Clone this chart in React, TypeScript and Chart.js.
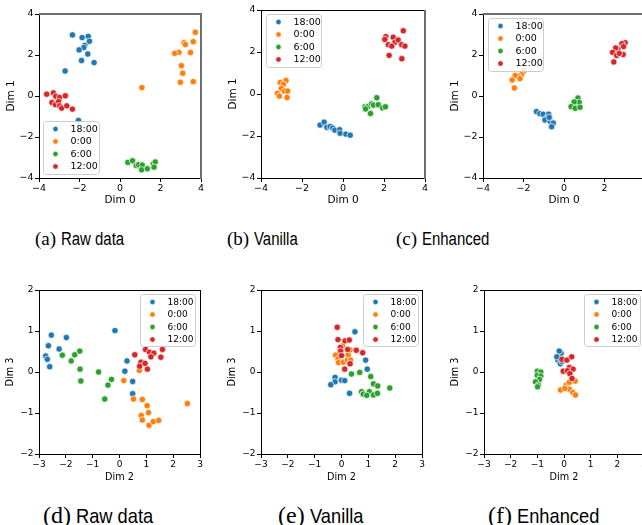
import React, { useEffect, useRef } from "react";
import { Chart, registerables } from "chart.js";
Chart.register(...registerables);

const SERIES = ["18:00", "0:00", "6:00", "12:00"];
const COLORS = ["#1f77b4", "#ff7f0e", "#2ca02c", "#d62728"];

// (a) Raw data — Dim 0 / Dim 1
const a18 = [[-2.35,2.98],[-1.57,2.91],[-1.87,2.85],[-1.51,2.67],[-1.74,2.47],[-1.79,2.36],[-2.02,2.25],[-1.59,2.05],[-1.90,1.73],[-1.28,1.63],[-2.71,1.22],[-2.05,-1.19]];
const a00 = [[3.72,3.11],[3.62,2.65],[3.16,2.60],[3.23,2.51],[2.91,2.13],[2.70,2.08],[3.48,2.12],[3.03,1.48],[3.10,1.11],[2.98,0.67],[3.62,0.70],[1.08,0.41]];
const a06 = [[0.39,-3.24],[0.62,-3.16],[0.80,-3.39],[0.92,-3.35],[1.10,-3.37],[1.07,-3.60],[1.35,-3.55],[1.64,-3.31],[1.74,-3.22],[1.68,-3.47]];
const a12 = [[-3.62,0.09],[-3.29,0.15],[-3.17,-0.01],[-2.98,-0.07],[-2.70,0.01],[-3.36,-0.32],[-3.19,-0.42],[-3.03,-0.27],[-2.98,-0.48],[-2.88,-0.59],[-2.63,-0.48],[-2.35,-0.64]];
// (b) Vanilla — Dim 0 / Dim 1
const b18 = [[-1.12,-1.48],[-0.92,-1.34],[-0.79,-1.58],[-0.63,-1.55],[-0.50,-1.62],[-0.40,-1.72],[-0.16,-1.70],[-0.14,-1.87],[0.14,-1.91],[0.35,-1.96]];
const b00 = [[-3.06,0.55],[-2.78,0.64],[-2.91,0.46],[-3.01,0.26],[-3.20,0.03],[-3.10,-0.10],[-2.86,0.14],[-2.70,0.14],[-2.73,-0.17]];
const b06 = [[1.07,-0.61],[1.21,-0.61],[1.39,-0.47],[1.49,-0.53],[1.34,-0.93],[1.65,-0.18],[1.72,-0.51],[1.93,-0.66],[2.07,-0.61],[1.10,-0.71]];
const b12 = [[2.09,2.73],[2.21,2.35],[2.45,2.70],[2.53,2.46],[2.69,2.57],[2.94,3.01],[2.86,2.35],[3.02,2.28],[2.38,2.28],[2.25,1.84],[2.87,1.68],[2.04,2.60]];
// (c) Enhanced — Dim 0 / Dim 1
const c18 = [[-1.36,-0.76],[-1.19,-0.86],[-1.03,-0.89],[-0.76,-0.89],[-0.86,-1.09],[-0.94,-1.17],[-0.68,-1.24],[-0.53,-1.32],[-0.61,-1.50],[-0.73,-1.04]];
const c00 = [[-1.98,1.22],[-2.10,1.04],[-2.26,0.96],[-2.41,1.00],[-2.17,0.85],[-2.56,0.78],[-2.45,0.39]];
const c06 = [[0.69,-0.10],[0.75,-0.31],[0.50,-0.29],[0.35,-0.52],[0.55,-0.60],[0.79,-0.55]];
const c12 = [[3.02,2.60],[2.86,2.55],[2.94,2.41],[2.66,2.28],[2.55,2.34],[2.40,2.13],[2.60,1.98],[2.92,2.03],[2.46,1.66],[2.73,2.08]];
// (d) Raw data — Dim 2 / Dim 3
const d18 = [[-2.75,0.39],[-2.69,0.31],[-2.60,0.13],[-2.65,0.64],[-2.54,0.90],[-2.25,0.56],[-1.98,0.84],[-0.17,1.01],[0.28,0.27],[0.20,0.02],[0.49,-0.23],[0.49,-0.53]];
const d00 = [[0.16,-0.21],[0.52,-0.66],[0.74,0.04],[0.85,-0.67],[1.03,-0.82],[1.08,-0.99],[0.81,-1.06],[0.85,-1.17],[1.10,-1.30],[1.26,-1.21],[1.46,-1.18],[2.53,-0.77]];
const d06 = [[-2.13,0.41],[-1.80,0.27],[-1.67,0.42],[-1.48,0.51],[-1.47,0.07],[-1.44,-0.22],[-0.78,0.0],[-0.30,-0.18],[-0.43,-0.32],[-0.55,-0.66]];
const d12 = [[0.57,0.42],[0.97,0.55],[1.12,0.48],[1.28,0.46],[1.60,0.55],[0.80,0.24],[0.95,0.21],[0.75,0.14],[1.17,0.37],[1.54,0.36],[1.04,0.07]];
// (e) Vanilla — Dim 2 / Dim 3
const e18 = [[0.50,0.98],[0.90,0.29],[0.96,0.07],[-0.24,-0.13],[-0.24,-0.24],[-0.40,-0.31],[0.0,-0.20],[0.12,-0.21],[0.30,-0.52]];
const e00 = [[0.04,0.64],[-0.06,0.53],[-0.22,0.41],[-0.13,0.32],[-0.11,0.23],[0.07,0.24],[0.22,0.29],[0.25,0.42],[0.32,0.54],[0.34,0.29]];
const e06 = [[0.37,-0.05],[0.68,-0.01],[1.09,-0.11],[1.19,-0.29],[1.35,-0.34],[1.80,-0.39],[0.75,-0.48],[1.04,-0.48],[0.81,-0.54],[0.94,-0.57],[1.19,-0.56],[1.34,-0.52]];
const e12 = [[-0.16,1.09],[-0.13,0.79],[-0.04,0.60],[0.13,0.76],[0.29,0.78],[-0.03,0.51],[0.0,0.40],[0.23,0.55],[0.55,0.53],[0.79,0.47],[0.12,0.07],[0.32,0.20]];
// (f) Enhanced — Dim 2 / Dim 3
const f18 = [[-0.11,0.46],[-0.18,0.51],[-0.23,0.29],[-0.14,0.20],[-0.27,0.37],[-0.08,0.26]];
const f00 = [[-0.13,-0.44],[0.07,-0.33],[0.20,-0.25],[0.42,-0.22],[0.20,-0.42],[0.03,-0.40],[0.33,-0.50],[0.43,-0.56]];
const f06 = [[-1.0,0.02],[-0.87,0.0],[-1.0,-0.08],[-0.87,-0.10],[-0.92,-0.18],[-1.07,-0.24],[-0.96,-0.32],[-0.99,-0.36]];
const f12 = [[-0.08,0.31],[0.11,0.29],[0.29,0.37],[0.20,0.11],[0.34,0.07],[-0.03,0.02],[0.13,0.03],[0.22,-0.04],[0.30,-0.16]];

type Side = "k" | "g";
type Panel = {
  series: number[][][];
  xTitle: string; yTitle: string;
  xr: [number, number, number]; yr: [number, number, number];
  area: [number, number, number, number]; // L, T, R, B in page px
  legend: [number, number, number, number]; // box x, y, w, h in page px
  frame: { top: Side; right: Side };
  small: boolean;
};

const PANELS: Panel[] = [
  { series: [a18, a00, a06, a12], xTitle: "Dim 0", yTitle: "Dim 1", xr: [-4, 4, 2], yr: [-4, 4, 2],
    area: [39, 14, 201, 178], legend: [43, 121, 56, 53], frame: { top: "g", right: "g" }, small: false },
  { series: [b18, b00, b06, b12], xTitle: "Dim 0", yTitle: "Dim 1", xr: [-4, 4, 2], yr: [-4, 4, 2],
    area: [261, 10, 425, 178], legend: [266, 14, 55, 53], frame: { top: "k", right: "g" }, small: false },
  { series: [c18, c00, c06, c12], xTitle: "Dim 0", yTitle: "Dim 1", xr: [-4, 4, 2], yr: [-4, 4, 2],
    area: [483, 14, 645, 178], legend: [488, 18, 55, 53], frame: { top: "g", right: "g" }, small: false },
  { series: [d18, d00, d06, d12], xTitle: "Dim 2", yTitle: "Dim 3", xr: [-3, 3, 1], yr: [-2, 2, 1],
    area: [39, 290, 200, 454], legend: [140, 294, 55, 52], frame: { top: "k", right: "k" }, small: true },
  { series: [e18, e00, e06, e12], xTitle: "Dim 2", yTitle: "Dim 3", xr: [-3, 3, 1], yr: [-2, 2, 1],
    area: [261, 290, 422, 454], legend: [363, 294, 55, 52], frame: { top: "k", right: "k" }, small: true },
  { series: [f18, f00, f06, f12], xTitle: "Dim 2", yTitle: "Dim 3", xr: [-3, 3, 1], yr: [-2, 2, 1],
    area: [484, 290, 644, 454], legend: [584, 294, 56, 52], frame: { top: "k", right: "k" }, small: true },
];

const CAPTIONS = [
  { tag: "(a)", text: "Raw data", left: 35, top: 229, size: 18, tagSize: 19, sx: 0.83 },
  { tag: "(b)", text: "Vanilla", left: 227, top: 229, size: 18, tagSize: 19, sx: 0.83 },
  { tag: "(c)", text: "Enhanced", left: 396, top: 229, size: 18, tagSize: 19, sx: 0.83 },
  { tag: "(d)", text: "Raw data", left: 43, top: 503, size: 21, tagSize: 24, sx: 0.87 },
  { tag: "(e)", text: "Vanilla", left: 278, top: 503, size: 21, tagSize: 24, sx: 0.87 },
  { tag: "(f)", text: "Enhanced", left: 488, top: 503, size: 21, tagSize: 24, sx: 0.87 },
];

const YW = 40, XH = 31, PT = 8, PR = 8;
const fmt = (v: number) => (v < 0 ? "\u2212" + Math.abs(v) : String(v));

function PanelChart({ p }: { p: Panel }) {
  const ref = useRef<HTMLCanvasElement | null>(null);
  const [L, T, R, B] = p.area;
  const cl = L - YW, ct = T - PT;
  const w = R - L + YW + PR, h = B - T + PT + XH;
  useEffect(() => {
    const tickSize = p.small ? 9 : 9.5;
    const titleSize = p.small ? 9.7 : 10.5;
    const legSize = p.small ? 9 : 9.5;
    const plugin = {
      id: "frameLegend",
      afterDraw(chart: any) {
        const ctx = chart.ctx as CanvasRenderingContext2D;
        const a = chart.chartArea;
        ctx.save();
        const line = (x1: number, y1: number, x2: number, y2: number, s: Side) => {
          ctx.beginPath();
          ctx.strokeStyle = s === "g" ? "#6e6e6e" : "#000";
          ctx.lineWidth = s === "g" ? 2 : 1;
          ctx.moveTo(x1, y1); ctx.lineTo(x2, y2); ctx.stroke();
        };
        line(a.left + 0.5, a.top, a.left + 0.5, a.bottom + 1, "k");
        line(a.left, a.bottom + 0.5, a.right + 1, a.bottom + 0.5, "k");
        if (p.frame.top === "g") line(a.left, a.top, a.right + 1, a.top, "g");
        else line(a.left, a.top + 0.5, a.right + 1, a.top + 0.5, "k");
        if (p.frame.right === "g") line(a.right, a.top, a.right, a.bottom + 1, "g");
        else line(a.right + 0.5, a.top, a.right + 0.5, a.bottom + 1, "k");
        // legend
        const [bx0, by0, bw, bh] = p.legend;
        const bx = bx0 - cl + 0.5, by = by0 - ct + 0.5;
        ctx.beginPath();
        (ctx as any).roundRect(bx, by, bw, bh, 3);
        ctx.fillStyle = "rgba(255,255,255,0.8)";
        ctx.fill();
        ctx.strokeStyle = "#cccccc";
        ctx.lineWidth = 1;
        ctx.stroke();
        ctx.font = `${legSize}px "DejaVu Sans"`;
        ctx.textBaseline = "middle";
        ctx.textAlign = "left";
        SERIES.forEach((s, i) => {
          const yy = by + 7.5 + i * 12.5;
          ctx.beginPath();
          ctx.arc(bx + 12, yy, 2.7, 0, Math.PI * 2);
          ctx.fillStyle = COLORS[i];
          ctx.fill();
          ctx.strokeStyle = "#fff";
          ctx.lineWidth = 0.6;
          ctx.stroke();
          ctx.fillStyle = "#000";
          ctx.fillText(s, bx + 27, yy + 0.5);
        });
        ctx.restore();
      },
    };
    const axis = (r: [number, number, number], title: string, isY: boolean) => ({
      type: "linear" as const,
      min: r[0], max: r[1],
      ticks: {
        stepSize: r[2], autoSkip: false, maxRotation: 0, padding: isY ? 1.5 : 1,
        color: "#000", font: { family: "DejaVu Sans", size: tickSize },
        callback: (v: any) => fmt(Number(v)),
      },
      grid: { drawOnChartArea: false, drawTicks: true, tickLength: 4, tickColor: "#000", tickWidth: 1 },
      border: { display: false },
      title: {
        display: true, text: title, color: "#000",
        font: { family: "DejaVu Sans", size: titleSize },
        padding: isY ? { top: 6, bottom: 0 } : { top: 0, bottom: 2 },
      },
      afterFit: (s: any) => { if (isY) s.width = YW; else s.height = XH; },
    });
    const chart = new Chart(ref.current!, {
      type: "scatter",
      data: {
        datasets: p.series.map((pts, i) => ({
          label: SERIES[i],
          data: pts.map(([x, y]) => ({ x, y })),
          backgroundColor: COLORS[i],
          borderColor: "#ffffff",
          borderWidth: 0.7,
          pointRadius: 3.2,
          order: 4 - i,
        })),
      },
      options: {
        responsive: false,
        animation: false,
        devicePixelRatio: 1,
        layout: { padding: { top: PT, right: PR, left: 0, bottom: 0 } },
        plugins: { legend: { display: false }, tooltip: { enabled: false } },
        scales: { x: axis(p.xr, p.xTitle, false), y: axis(p.yr, p.yTitle, true) },
      },
      plugins: [plugin],
    });
    return () => chart.destroy();
  }, []);
  return (
    <canvas ref={ref} width={w} height={h}
      style={{ position: "absolute", left: cl, top: ct, width: w, height: h }} />
  );
}

export default function App() {
  return (
    <div style={{ position: "absolute", left: 0, top: 0, width: 642, height: 525, overflow: "hidden", background: "#fff" }}>
      {PANELS.map((p, i) => <PanelChart key={i} p={p} />)}
      {CAPTIONS.map((c, i) => (
        <div key={"c" + i} style={{ position: "absolute", left: c.left, top: c.top, whiteSpace: "nowrap", lineHeight: 1, color: "#000" }}>
          <span style={{ fontFamily: '"Liberation Serif"', fontSize: c.tagSize }}>{c.tag}</span>
          <span style={{ display: "inline-block", marginLeft: c.size * 0.25, fontFamily: '"Liberation Sans"', fontSize: c.size, transform: `scaleX(${c.sx})`, transformOrigin: "left center" }}>{c.text}</span>
        </div>
      ))}
    </div>
  );
}
